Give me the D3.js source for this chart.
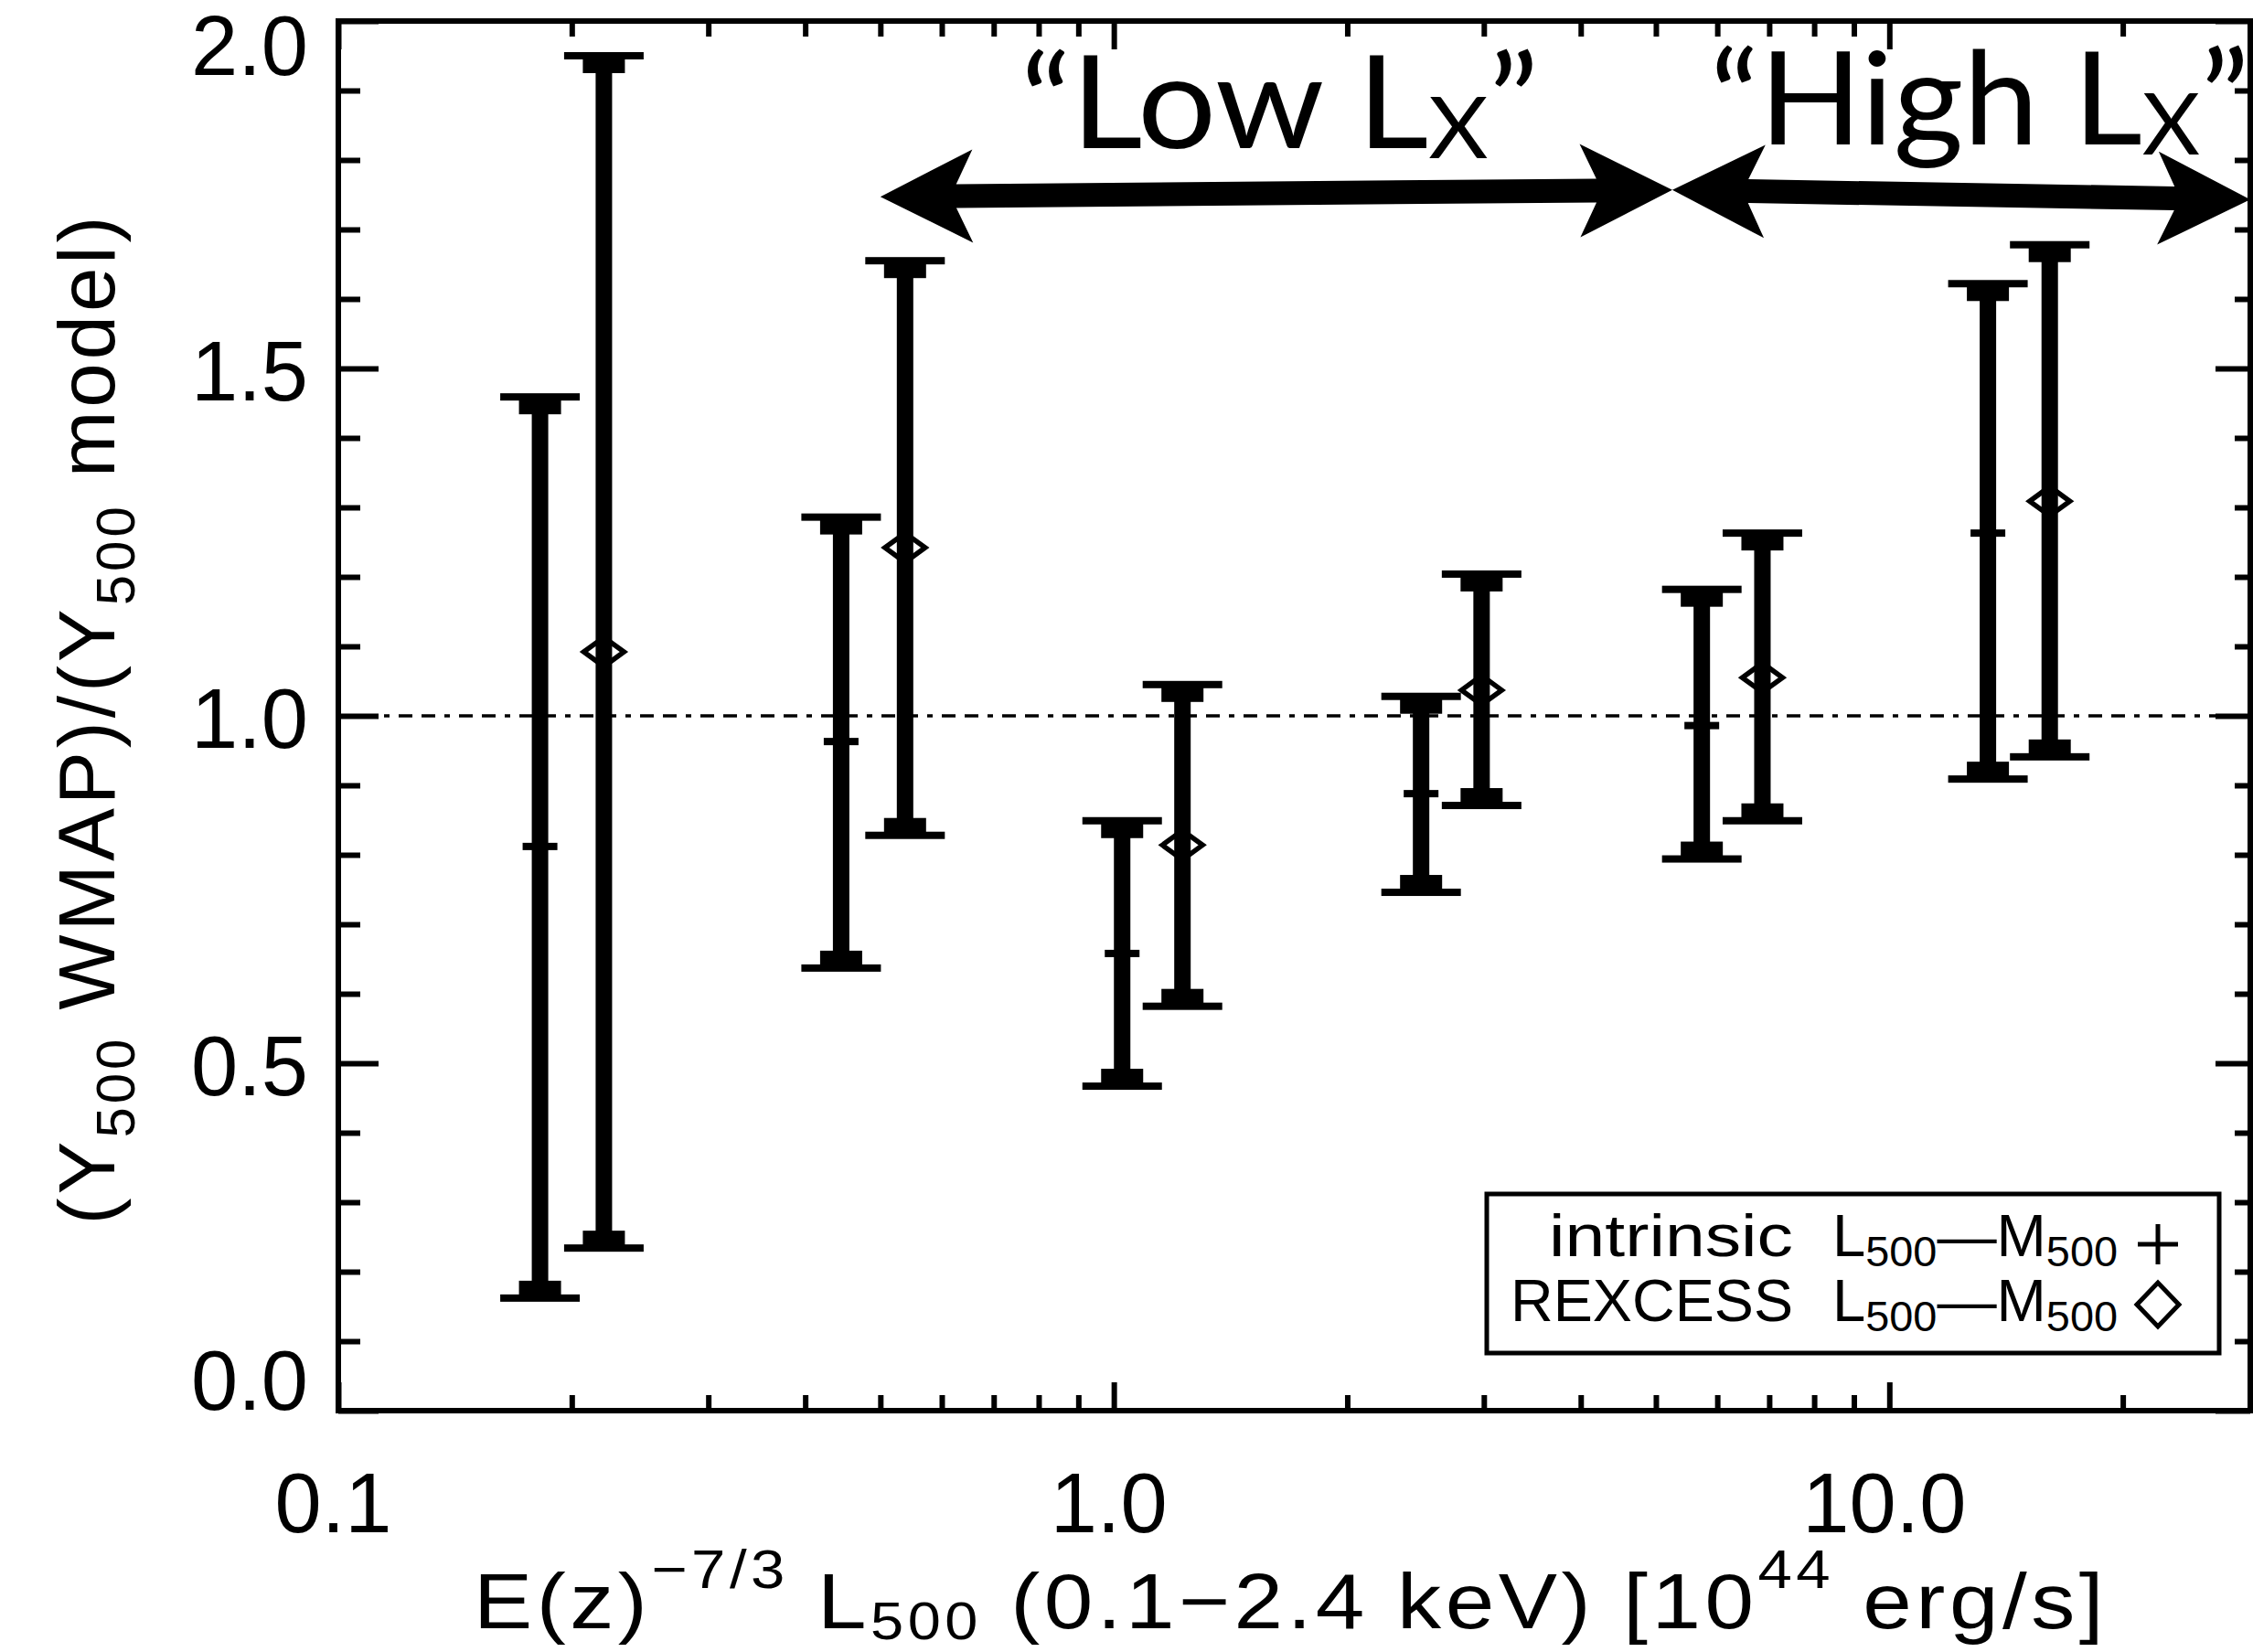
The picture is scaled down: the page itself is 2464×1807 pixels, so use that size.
<!DOCTYPE html>
<html><head><meta charset="utf-8">
<script src="https://cdn.jsdelivr.net/npm/d3@7"></script>
<style>html,body{margin:0;padding:0;background:#fff;overflow:hidden}</style>
</head><body>
<svg id="c" width="2464" height="1807" xmlns="http://www.w3.org/2000/svg"></svg>
<script>
// ---------------- data ----------------
const intrinsicX   = [0.182, 0.445, 1.025, 2.49, 5.73, 13.4];
const intrinsicMid = [0.812, 0.963, 0.658, 0.888, 0.986, 1.263];
const intrinsicLo  = [0.162, 0.637, 0.467, 0.746, 0.794, 0.909];
const intrinsicHi  = [1.459, 1.286, 0.849, 1.028, 1.182, 1.622];

const rexcessX   = [0.220, 0.538, 1.226, 2.98, 6.86, 16.1];
const rexcessMid = [1.092, 1.242, 0.814, 1.037, 1.055, 1.309];
const rexcessLo  = [0.234, 0.828, 0.582, 0.871, 0.849, 0.941];
const rexcessHi  = [1.950, 1.655, 1.045, 1.204, 1.263, 1.678];

const xDomain = [0.1, 29.2];
const yDomain = [0, 2];
const xMajorTicks  = [0.1, 1, 10];
const xMajorLabels = ["0.1", "1.0", "10.0"];
const xMinorTicks  = [0.2,0.3,0.4,0.5,0.6,0.7,0.8,0.9, 2,3,4,5,6,7,8,9, 20];
const yMajorTicks  = [0, 0.5, 1, 1.5, 2];
const yMajorLabels = ["0.0", "0.5", "1.0", "1.5", "2.0"];
const yMinorTicks  = [0.1,0.2,0.3,0.4, 0.6,0.7,0.8,0.9, 1.1,1.2,1.3,1.4, 1.6,1.7,1.8,1.9];
const referenceY = 1.0;

const lowRange  = [0.5, 5.25];   const lowArrowY  = [1.747, 1.757];
const highRange = [5.25, 29.2];  const highArrowY = [1.757, 1.743];
const lowLabelPos  = [0.758, 1.817];
const highLabelPos = [5.87, 1.822];

const legendRows = ["intrinsic", "REXCESS"];

// ---------------- layout ----------------
const W = 2464, H = 1807;
const L = 370, R = 2461, T = 23, B = 1543;
const svg = d3.select("#c");
const x = d3.scaleLog().domain(xDomain).range([L, R]);
const y = d3.scaleLinear().domain(yDomain).range([B, T]);
const tickFont = "'Liberation Sans', Arial, Helvetica, sans-serif";

svg.append("rect").attr("width", W).attr("height", H).attr("fill", "#fff");

// reference dashed line
svg.append("line")
  .attr("x1", L).attr("x2", R).attr("y1", y(referenceY)).attr("y2", y(referenceY))
  .attr("stroke", "#000").attr("stroke-width", 3.5)
  .attr("stroke-dasharray", "15,10,15,10,6,10");

function styleAxis(g, sw) {
  g.select(".domain").remove();
  g.selectAll(".tick line").attr("stroke", "#000").attr("stroke-width", sw);
  g.selectAll("text").attr("fill", "#000").attr("font-family", tickFont);
}

// bottom
const gb = svg.append("g").attr("transform", `translate(0,${B})`)
  .call(d3.axisBottom(x).tickValues(xMajorTicks).tickSize(-31).tickPadding(68)
        .tickFormat((d, i) => xMajorLabels[i]));
styleAxis(gb, 6);
gb.selectAll("text").attr("font-size", 92).attr("dx", -6);
const gbm = svg.append("g").attr("transform", `translate(0,${B})`)
  .call(d3.axisBottom(x).tickValues(xMinorTicks).tickSize(-17).tickFormat(""));
styleAxis(gbm, 6);

// top
const gt = svg.append("g").attr("transform", `translate(0,${T})`)
  .call(d3.axisTop(x).tickValues(xMajorTicks).tickSize(-31).tickFormat(""));
styleAxis(gt, 6);
const gtm = svg.append("g").attr("transform", `translate(0,${T})`)
  .call(d3.axisTop(x).tickValues(xMinorTicks).tickSize(-17).tickFormat(""));
styleAxis(gtm, 6);

// left
const gl = svg.append("g").attr("transform", `translate(${L},0)`)
  .call(d3.axisLeft(y).tickValues(yMajorTicks).tickSize(-44).tickPadding(33)
        .tickFormat((d, i) => yMajorLabels[i]));
styleAxis(gl, 6);
gl.selectAll("text").attr("font-size", 92)
  .attr("dy", d => d === 0 ? "-0.0em" : (d === 2 ? "0.64em" : "0.38em"))
  .attr("transform", d => d === 0 ? "translate(0,-2)" : null);
const glm = svg.append("g").attr("transform", `translate(${L},0)`)
  .call(d3.axisLeft(y).tickValues(yMinorTicks).tickSize(-24).tickFormat(""));
styleAxis(glm, 6);

// right
const gr = svg.append("g").attr("transform", `translate(${R},0)`)
  .call(d3.axisRight(y).tickValues(yMajorTicks).tickSize(-38).tickFormat(""));
styleAxis(gr, 6);
const grm = svg.append("g").attr("transform", `translate(${R},0)`)
  .call(d3.axisRight(y).tickValues(yMinorTicks).tickSize(-17).tickFormat(""));
styleAxis(grm, 6);

// frame
svg.append("rect").attr("x", L).attr("y", T).attr("width", R - L).attr("height", B - T)
  .attr("fill", "none").attr("stroke", "#000").attr("stroke-width", 6);

// ---------------- error bars ----------------
function drawSeries(xs, mids, los, his, marker) {
  const g = svg.append("g");
  xs.forEach((xv, i) => {
    const cx = x(xv), yh = y(his[i]), yl = y(los[i]), ym = y(mids[i]);
    g.append("rect").attr("x", cx - 9).attr("y", yh).attr("width", 18).attr("height", yl - yh).attr("fill", "#000");
    g.append("rect").attr("x", cx - 43.5).attr("y", yh - 4).attr("width", 87).attr("height", 8).attr("fill", "#000");
    g.append("rect").attr("x", cx - 23).attr("y", yh + 3).attr("width", 46).attr("height", 16).attr("fill", "#000");
    g.append("rect").attr("x", cx - 43.5).attr("y", yl - 4).attr("width", 87).attr("height", 8).attr("fill", "#000");
    g.append("rect").attr("x", cx - 23).attr("y", yl - 19).attr("width", 46).attr("height", 16).attr("fill", "#000");
    if (marker === "plus") {
      g.append("rect").attr("x", cx - 19).attr("y", ym - 4).attr("width", 38).attr("height", 8).attr("fill", "#000");
    } else {
      g.append("path")
        .attr("d", `M${cx - 22},${ym} L${cx},${ym - 16} L${cx + 22},${ym} L${cx},${ym + 16} Z`)
        .attr("fill", "none").attr("stroke", "#000").attr("stroke-width", 5.5);
    }
  });
}
drawSeries(intrinsicX, intrinsicMid, intrinsicLo, intrinsicHi, "plus");
drawSeries(rexcessX, rexcessMid, rexcessLo, rexcessHi, "diamond");

// ---------------- annotation arrows ----------------
function doubleArrow(x1, y1, x2, y2) {
  const dx = x2 - x1, dy = y2 - y1, len = Math.hypot(dx, dy);
  const ux = dx / len, uy = dy / len, nx = -uy, ny = ux;
  const HL = 101, HW = 51, NB = 83, TW = 13;
  const P = (t, s, base) => [base[0] + ux * t + nx * s, base[1] + uy * t + ny * s];
  const a = [x1, y1], b = [x2, y2];
  const pts = [
    a, P(HL, HW, a), P(NB, TW, a), P(-NB, TW, b), P(-HL, HW, b), b,
    P(-HL, -HW, b), P(-NB, -TW, b), P(NB, -TW, a), P(HL, -HW, a)
  ];
  svg.append("path").attr("d", "M" + pts.map(p => p.join(",")).join("L") + "Z").attr("fill", "#000");
}
doubleArrow(x(lowRange[0]), y(lowArrowY[0]), x(lowRange[1]), y(lowArrowY[1]));
doubleArrow(x(highRange[0]), y(highArrowY[0]), x(highRange[1]), y(highArrowY[1]));

function lxLabel(pos, word, len) {
  const t = svg.append("text").attr("x", x(pos[0])).attr("y", y(pos[1]))
    .attr("font-family", "Lato, 'Open Sans', sans-serif").attr("font-size", 142).attr("fill", "#000")
    .attr("textLength", len).attr("lengthAdjust", "spacingAndGlyphs");
  t.append("tspan").text("\u201C" + word + " L");
  t.append("tspan").attr("font-size", 94).attr("dy", 11).text("X");
  t.append("tspan").attr("dy", -11).text("\u201D");
}
lxLabel(lowLabelPos, "Low", 567);
lxLabel(highLabelPos, "High", 590);

// ---------------- axis titles ----------------
const xt = svg.append("text").attr("x", (L + R) / 2 - 4).attr("y", 1781)
  .attr("text-anchor", "middle").attr("font-family", tickFont).attr("font-size", 86).attr("fill", "#000")
  .attr("letter-spacing", 4)
  .attr("textLength", 1787).attr("lengthAdjust", "spacingAndGlyphs");
xt.append("tspan").text("E(z)");
xt.append("tspan").attr("font-size", 60).attr("dy", -44).text("\u22127/3");
xt.append("tspan").attr("dy", 44).text(" L");
xt.append("tspan").attr("font-size", 58).attr("dy", 12).text("500");
xt.append("tspan").attr("dy", -12).text(" (0.1\u22122.4 keV) [10");
xt.append("tspan").attr("font-size", 60).attr("dy", -44).text("44");
xt.append("tspan").attr("dy", 44).text(" erg/s]");

const yt = svg.append("text").attr("transform", `translate(125,786) rotate(-90)`)
  .attr("text-anchor", "middle").attr("font-family", tickFont).attr("font-size", 87).attr("fill", "#000")
  .attr("letter-spacing", 4)
  .attr("textLength", 1107).attr("lengthAdjust", "spacingAndGlyphs");
yt.append("tspan").text("(Y");
yt.append("tspan").attr("font-size", 60).attr("dy", 22).text("500");
yt.append("tspan").attr("dy", -22).text(" WMAP)/(Y");
yt.append("tspan").attr("font-size", 60).attr("dy", 22).text("500");
yt.append("tspan").attr("dy", -22).text(" model)");

// ---------------- legend ----------------
const lg = svg.append("g");
lg.append("rect").attr("x", 1626).attr("y", 1306).attr("width", 801).attr("height", 174)
  .attr("fill", "#fff").attr("stroke", "#000").attr("stroke-width", 5);
const rowBase = [1374, 1445];
const rowNameLen = [267, 309];
legendRows.forEach((name, i) => {
  lg.append("text").attr("x", 1961).attr("y", rowBase[i]).attr("text-anchor", "end")
    .attr("font-family", tickFont).attr("font-size", 64).attr("fill", "#000")
    .attr("textLength", rowNameLen[i]).attr("lengthAdjust", "spacingAndGlyphs").text(name);
  const t = lg.append("text").attr("x", 2004).attr("y", rowBase[i])
    .attr("font-family", tickFont).attr("font-size", 64).attr("fill", "#000")
    .attr("textLength", 312).attr("lengthAdjust", "spacingAndGlyphs");
  t.append("tspan").text("L");
  t.append("tspan").attr("font-size", 46).attr("dy", 11).text("500");
  t.append("tspan").attr("dy", -11).text("\u2014M");
  t.append("tspan").attr("font-size", 46).attr("dy", 11).text("500");
});
lg.append("path").attr("d", "M2338,1361 H2382 M2360,1339 V1383")
  .attr("stroke", "#000").attr("stroke-width", 5).attr("fill", "none");
lg.append("path").attr("d", "M2337,1427 L2360,1403 L2383,1427 L2360,1451 Z")
  .attr("stroke", "#000").attr("stroke-width", 5).attr("fill", "none");
</script>
</body></html>
